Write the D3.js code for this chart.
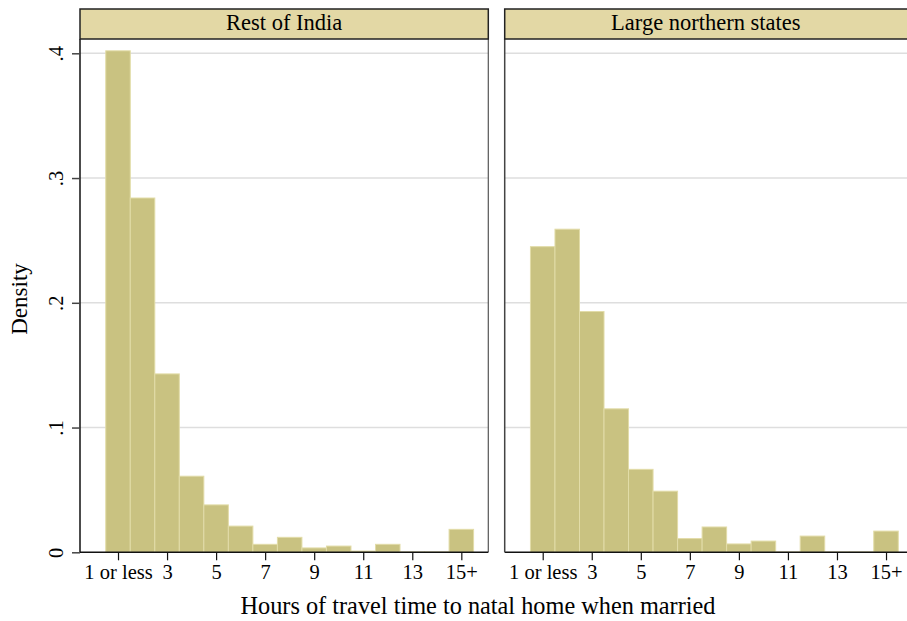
<!DOCTYPE html>
<html>
<head>
<meta charset="utf-8">
<script src="https://cdn.jsdelivr.net/npm/d3@7"></script>
<style>
  html, body { margin: 0; padding: 0; background: #fff; }
  svg { display: block; font-family: "Liberation Serif", "Times New Roman", serif; }
</style>
</head>
<body>
<svg id="chart" width="907" height="621"></svg>
<script>
// Travel hours (bin centres, width 1)
const hours = [1, 2, 3, 4, 5, 6, 7, 8, 9, 10, 11, 12, 13, 14, 15];
// Density per bin
const restOfIndia = [0.402, 0.284, 0.143, 0.061, 0.038, 0.021, 0.0064, 0.012, 0.0035, 0.005, 0.001, 0.0064, 0.0003, 0.0003, 0.0184];
const largeNorthern = [0.245, 0.259, 0.193, 0.115, 0.0665, 0.049, 0.011, 0.0203, 0.0067, 0.009, 0.0003, 0.013, 0.0003, 0.0003, 0.017];
const panelTitles = ["Rest of India", "Large northern states"];
const xTickValues = [1, 3, 5, 7, 9, 11, 13, 15];
const xTickLabels = ["1 or less", "3", "5", "7", "9", "11", "13", "15+"];
const yTickValues = [0, 0.1, 0.2, 0.3, 0.4];
const yTickLabels = ["0", ".1", ".2", ".3", ".4"];

const svg = d3.select("#chart");

const plotTop = 39, plotBottom = 552.3;
const headerTop = 9;
const panels = [
  { left: 80, right: 488.3, values: restOfIndia, title: panelTitles[0], showY: true },
  { left: 504.7, right: 913, values: largeNorthern, title: panelTitles[1], showY: false }
];

const y = d3.scaleLinear().domain([0, 0.4]).range([plotBottom, 53.3]);
const yMax = y.invert(plotTop);
y.domain([0, yMax]).range([plotBottom, plotTop]);

const barFill = "#c9c281", barStroke = "#e2dca8";
const headerFill = "#e3d8a5";

panels.forEach(p => {
  const x = d3.scaleLinear().domain([-0.55, 16.1]).range([p.left, p.right]);
  const g = svg.append("g");

  // gridlines
  g.selectAll("line.grid").data(yTickValues.filter(v => v > 0)).join("line")
    .attr("x1", p.left).attr("x2", p.right)
    .attr("y1", d => y(d)).attr("y2", d => y(d))
    .attr("stroke", "#dedede").attr("stroke-width", 1.5);

  // bars
  g.selectAll("rect.bar").data(hours.map((h, i) => ({ h, v: p.values[i] }))).join("rect")
    .attr("x", d => x(d.h - 0.5))
    .attr("width", d => x(d.h + 0.5) - x(d.h - 0.5))
    .attr("y", d => y(d.v))
    .attr("height", d => y(0) - y(d.v))
    .attr("fill", barFill)
    .attr("stroke", barStroke).attr("stroke-width", 1);

  // right frame edge
  g.append("line")
    .attr("x1", p.right).attr("x2", p.right)
    .attr("y1", plotTop).attr("y2", plotBottom)
    .attr("stroke", "#555").attr("stroke-width", 1.2);

  // x axis
  const xAxis = d3.axisBottom(x).tickValues(xTickValues)
    .tickFormat((d, i) => xTickLabels[i]).tickSize(8).tickSizeOuter(0).tickPadding(4);
  const gx = g.append("g").attr("transform", `translate(0,${plotBottom})`).call(xAxis);
  gx.select(".domain").attr("stroke", "#111").attr("stroke-width", 1.5)
    .attr("d", `M${p.left},0H${p.right}`);
  gx.selectAll(".tick line").attr("stroke", "#111").attr("stroke-width", 1.2);
  gx.selectAll(".tick text").attr("font-family", "Liberation Serif, serif")
    .attr("font-size", 20.5).attr("fill", "#000");

  // y axis
  const yAxis = d3.axisLeft(y).tickValues(yTickValues)
    .tickFormat((d, i) => p.showY ? yTickLabels[i] : "")
    .tickSize(p.showY ? 8 : 0).tickSizeOuter(0);
  const gy = g.append("g").attr("transform", `translate(${p.left},0)`).call(yAxis);
  gy.select(".domain").attr("stroke", p.showY ? "#111" : "#444").attr("stroke-width", 1.5)
    .attr("d", `M0,${plotTop}V${plotBottom}`);
  gy.selectAll(".tick line").attr("stroke", "#444").attr("stroke-width", 1.5);
  gy.selectAll(".tick text")
    .attr("font-family", "Liberation Serif, serif").attr("font-size", 20.5).attr("fill", "#000")
    .attr("text-anchor", "middle").attr("dy", null)
    .attr("x", null)
    .attr("transform", "translate(-17,0) rotate(-90)")
    .attr("dominant-baseline", "auto");

  // header strip
  g.append("rect")
    .attr("x", p.left).attr("y", headerTop)
    .attr("width", p.right - p.left).attr("height", plotTop - headerTop)
    .attr("fill", headerFill).attr("stroke", "#222").attr("stroke-width", 1.5);
  g.append("text")
    .attr("x", (p.left + Math.min(p.right, 907 + 6)) / 2 - (p.showY ? 0 : 3))
    .attr("y", headerTop + 21)
    .attr("text-anchor", "middle").attr("font-size", 22.5).attr("fill", "#000")
    .text(p.title);
});

// axis titles
svg.append("text")
  .attr("x", 478).attr("y", 614)
  .attr("text-anchor", "middle").attr("font-size", 24.3).attr("fill", "#000")
  .text("Hours of travel time to natal home when married");
svg.append("text")
  .attr("transform", "translate(27,299) rotate(-90)")
  .attr("text-anchor", "middle").attr("font-size", 23).attr("fill", "#000")
  .text("Density");
</script>
</body>
</html>
